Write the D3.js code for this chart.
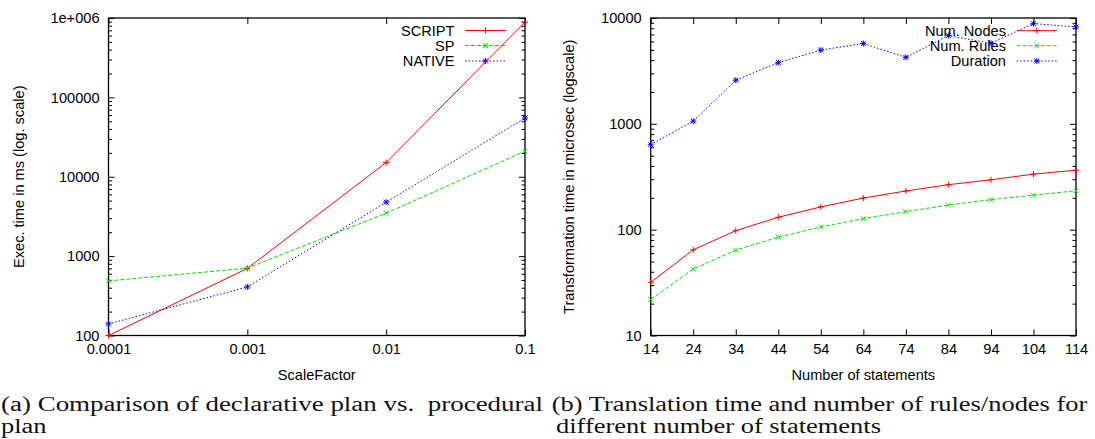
<!DOCTYPE html>
<html><head><meta charset="utf-8">
<script src="https://cdn.jsdelivr.net/npm/d3@7"></script>
<style>body{margin:0;background:#fff;} svg{display:block;}</style>
</head><body>
<svg id="c" width="1095" height="439"></svg>
<script>
// ---------- Data: panel (a) ----------
const scaleFactors = [0.0001, 0.001, 0.01, 0.1];
const scriptTimes = [100, 700, 15100, 885000];
const spTimes = [487, 705, 3470, 21000];
const nativeTimes = [140, 409, 4780, 55000];
const aXTickLabels = ["0.0001", "0.001", "0.01", "0.1"];
const aYTickValues = [100, 1000, 10000, 100000, 1000000];
const aYTickLabels = ["100", "1000", "10000", "100000", "1e+006"];
const aSeriesNames = ["SCRIPT", "SP", "NATIVE"];

// ---------- Data: panel (b) ----------
const statements = [14, 24, 34, 44, 54, 64, 74, 84, 94, 104, 114];
const numNodes = [31.8, 64.5, 97.8, 131, 164, 199, 232, 266, 296, 335, 365];
const numRules = [21.9, 42.5, 64, 85, 106, 127, 148, 171, 192, 212, 233];
const duration = [635, 1059, 2585, 3786, 4977, 5745, 4246, 6826, 5780, 8850, 8240];
const bXTickLabels = ["14", "24", "34", "44", "54", "64", "74", "84", "94", "104", "114"];
const bYTickValues = [10, 100, 1000, 10000];
const bYTickLabels = ["10", "100", "1000", "10000"];
const bSeriesNames = ["Num. Nodes", "Num. Rules", "Duration"];

const captionA = ["(a) Comparison of declarative plan vs.\u00a0 procedural", "plan"];
const captionB = ["(b) Translation time and number of rules/nodes for", "different number of statements"];

// ---------- Drawing ----------
const svg = d3.select("#c");
svg.append("rect").attr("width", 1095).attr("height", 439).attr("fill", "#fff");
const FONT = "'Liberation Sans', Arial, sans-serif";
const FS = 14.6;
const styles = [
  {color: "#ff0000", dash: null, marker: "plus"},
  {color: "#00e000", dash: "4,2", marker: "cross"},
  {color: "#0000ff", dash: "1.5,2", marker: "star"}
];

function markerPath(type, cx, cy, r) {
  const p = d3.path();
  if (type === "plus" || type === "star") {
    p.moveTo(cx - r, cy); p.lineTo(cx + r, cy);
    p.moveTo(cx, cy - r); p.lineTo(cx, cy + r);
  }
  if (type === "cross" || type === "star") {
    const d = r * 0.8;
    p.moveTo(cx - d, cy - d); p.lineTo(cx + d, cy + d);
    p.moveTo(cx - d, cy + d); p.lineTo(cx + d, cy - d);
  }
  return p.toString();
}

function logMinors(lo, hi) {
  const out = [];
  for (let dec = lo; dec < hi; dec *= 10)
    for (let m = 2; m <= 9; m++) out.push(dec * m);
  return out;
}

function panel(o) {
  const g = svg.append("g");
  const x = o.x, y = o.y;
  const [x0, x1] = x.range(), [y1, y0] = y.range();
  // major / minor ticks, mirrored on all sides
  const ax = [
    d3.axisBottom(x).tickValues(o.xTicks).tickFormat((d, i) => o.xLabels[i]).tickSizeInner(-6).tickSizeOuter(0).tickPadding(8),
    d3.axisTop(x).tickValues(o.xTicks).tickFormat("").tickSizeInner(-6).tickSizeOuter(0)
  ];
  const gb = g.append("g").attr("transform", `translate(0,${y1})`).call(ax[0]);
  const gt = g.append("g").attr("transform", `translate(0,${y0})`).call(ax[1]);
  const gl = g.append("g").attr("transform", `translate(${x0},0)`).call(
    d3.axisLeft(y).tickValues(o.yTicks).tickFormat((d, i) => o.yLabels[i]).tickSizeInner(-6).tickSizeOuter(0).tickPadding(9));
  const gr = g.append("g").attr("transform", `translate(${x1},0)`).call(
    d3.axisRight(y).tickValues(o.yTicks).tickFormat("").tickSizeInner(-6).tickSizeOuter(0));
  const gml = g.append("g").attr("transform", `translate(${x0},0)`).call(
    d3.axisLeft(y).tickValues(o.yMinor).tickFormat("").tickSizeInner(-3.5).tickSizeOuter(0));
  const gmr = g.append("g").attr("transform", `translate(${x1},0)`).call(
    d3.axisRight(y).tickValues(o.yMinor).tickFormat("").tickSizeInner(-3.5).tickSizeOuter(0));
  [gb, gt, gl, gr, gml, gmr].forEach(s => {
    s.select(".domain").remove();
    s.selectAll("line").attr("stroke", "#000").attr("stroke-width", 1);
    s.selectAll("text").attr("font-family", FONT).attr("font-size", FS).attr("fill", "#000");
  });
  gb.selectAll("text").attr("dy", "0.71em");
  // frame
  g.append("rect").attr("x", x0).attr("y", y0).attr("width", x1 - x0).attr("height", y1 - y0)
    .attr("fill", "none").attr("stroke", "#000").attr("stroke-width", 1.3);
  // axis titles
  g.append("text").attr("x", (x0 + x1) / 2).attr("y", o.xTitleY).attr("text-anchor", "middle")
    .attr("font-family", FONT).attr("font-size", FS).text(o.xTitle);
  g.append("text").attr("transform", `translate(${o.yTitleX},${(y0 + y1) / 2}) rotate(-90)`)
    .attr("text-anchor", "middle").attr("dominant-baseline", "central")
    .attr("font-family", FONT).attr("font-size", FS).text(o.yTitle);
  // legend
  o.names.forEach((n, i) => {
    const st = styles[i], ly = o.legY[i];
    g.append("text").attr("x", o.legTextX).attr("y", ly).attr("text-anchor", "end")
      .attr("dominant-baseline", "central").attr("font-family", FONT).attr("font-size", FS).text(n);
    g.append("line").attr("x1", o.legLine[0]).attr("x2", o.legLine[1]).attr("y1", ly).attr("y2", ly)
      .attr("stroke", st.color).attr("stroke-width", 1).attr("stroke-dasharray", st.dash);
    g.append("path").attr("d", markerPath(st.marker, (o.legLine[0] + o.legLine[1]) / 2, ly, 3))
      .attr("stroke", st.color).attr("stroke-width", 1).attr("fill", "none");
  });
  // series
  o.series.forEach((vals, i) => {
    const st = styles[i];
    const line = d3.line().x((d, j) => x(o.xs[j])).y(d => y(d));
    g.append("path").datum(vals).attr("d", line).attr("fill", "none")
      .attr("stroke", st.color).attr("stroke-width", 1).attr("stroke-dasharray", st.dash);
    g.append("path").attr("d", vals.map((v, j) => markerPath(st.marker, x(o.xs[j]), y(v), 3)).join(""))
      .attr("stroke", st.color).attr("stroke-width", 1).attr("fill", "none");
  });
}

panel({
  x: d3.scaleLog().domain([scaleFactors[0], scaleFactors[3]]).range([108.5, 525]),
  y: d3.scaleLog().domain([100, 1e6]).range([335.5, 18]),
  xs: scaleFactors, xTicks: scaleFactors, xLabels: aXTickLabels,
  yTicks: aYTickValues, yLabels: aYTickLabels, yMinor: logMinors(100, 1e6),
  xTitle: "ScaleFactor", xTitleY: 379.5,
  yTitle: "Exec. time in ms (log. scale)", yTitleX: 19,
  names: aSeriesNames, legY: [30.5, 45.5, 61], legTextX: 454.5, legLine: [465, 506],
  series: [scriptTimes, spTimes, nativeTimes]
});

panel({
  x: d3.scaleLinear().domain([14, 114]).range([650.7, 1076]),
  y: d3.scaleLog().domain([10, 10000]).range([335.5, 18]),
  xs: statements, xTicks: statements, xLabels: bXTickLabels,
  yTicks: bYTickValues, yLabels: bYTickLabels, yMinor: logMinors(10, 10000),
  xTitle: "Number of statements", xTitleY: 379.5,
  yTitle: "Transformation time in microsec (logscale)", yTitleX: 569,
  names: bSeriesNames, legY: [30.7, 45.7, 61], legTextX: 1006, legLine: [1016.7, 1057],
  series: [numNodes, numRules, duration]
});

// captions
const SERIF = "'Liberation Serif', 'Times New Roman', serif";
function cap(txt, xx, yy) {
  return svg.append("text").attr("x", xx).attr("y", yy).attr("font-family", SERIF)
    .attr("font-size", 20).attr("fill", "#111").text(txt);
}
const a1 = cap(captionA[0], 1, 410.5), a2 = cap(captionA[1], 1, 432.5);
const b1 = cap(captionB[0], 551.7, 410.5), b2 = cap(captionB[1], 556, 432.5);
const k = 325 / b2.node().getComputedTextLength();
a1.attr("textLength", 542).attr("lengthAdjust", "spacingAndGlyphs");
[a2, b1, b2].forEach(t => t.attr("textLength", t.node().getComputedTextLength() * k).attr("lengthAdjust", "spacingAndGlyphs"));
</script>
</body></html>
